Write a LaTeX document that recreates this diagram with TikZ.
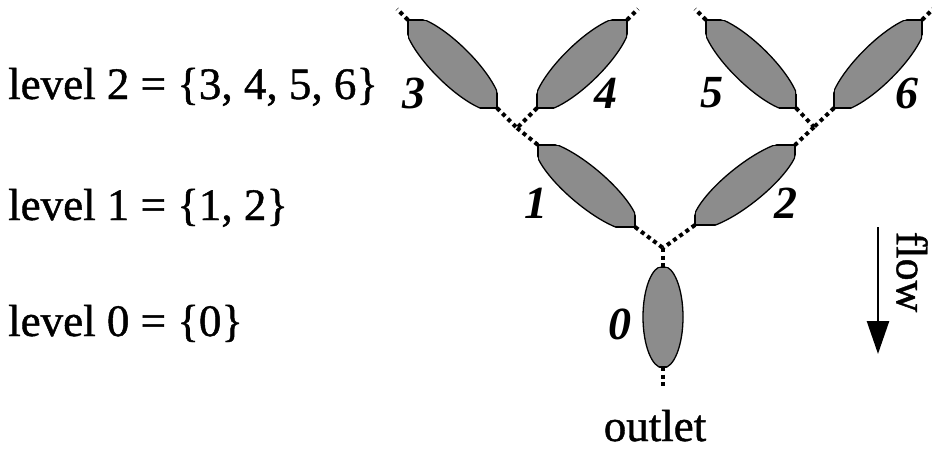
\documentclass[tikz,border=0pt]{standalone}
\usepackage{fontspec}
\setmainfont{Liberation Serif}
\newfontfamily\heavyserif[FakeBold=1]{Liberation Serif}
\usetikzlibrary{arrows.meta}
\definecolor{leafgray}{RGB}{140,140,140}
\tikzset{
  leaf/.style={fill=leafgray, draw=black, line width=1.3pt},
  conn/.style={line width=4pt, dash pattern=on 4pt off 3.6pt},
  lvl/.style={anchor=base west, font=\heavyserif\fontsize{45}{52}\selectfont, inner sep=0pt},
  num/.style={font=\fontsize{46}{52}\selectfont\bfseries\itshape, inner sep=0pt},
  plain/.style={font=\heavyserif\fontsize{45}{52}\selectfont, inner sep=0pt},
}
\newcommand\leafshape[7]{%
  \begin{scope}
    \clip (#1-#6,#2-#7) rectangle (#1+#6,#2+#7);
    \path[leaf, rotate around={#3:(#1,#2)}] (#1,#2) ellipse [x radius=#4, y radius=#5];
  \end{scope}
  \begin{scope}
    \clip[rotate around={#3:(#1,#2)}] (#1,#2) ellipse [x radius=#4, y radius=#5];
    \draw[line width=1.3pt] (#1-#6,#2-#7) rectangle (#1+#6,#2+#7);
  \end{scope}}
\begin{document}
\begin{tikzpicture}[x=1pt,y=-1pt]
\useasboundingbox (0,0) rectangle (932,450);
% leaves
\leafshape{452.5}{64}{-44.7}{64}{19.5}{44.5}{44}
\leafshape{582}{64}{44.4}{64}{19.5}{45}{44}
\leafshape{751}{64}{-44.4}{64}{19.5}{45}{44}
\leafshape{878}{64}{45}{64}{19.5}{44}{44}
\leafshape{586.5}{186}{-40.2}{65}{19}{48.5}{41}
\leafshape{745}{185}{38.7}{65}{19}{50}{40}
\leafshape{663}{317}{90}{51}{20}{21}{50}
% end points
\coordinate (e3a) at (408,20);  \coordinate (e3b) at (497,108);
\coordinate (e4a) at (627,20);  \coordinate (e4b) at (537,108);
\coordinate (e5a) at (706,20);  \coordinate (e5b) at (796,108);
\coordinate (e6a) at (922,20);  \coordinate (e6b) at (834,108);
\coordinate (e1a) at (538,145); \coordinate (e1b) at (635,227);
\coordinate (e2a) at (795,145); \coordinate (e2b) at (695,225);
\coordinate (e0a) at (663,267); \coordinate (e0b) at (663,367);
\coordinate (j34) at (517,128);
\coordinate (j56) at (814,127);
\coordinate (j12) at (663,248);
\coordinate (f3) at (397,9);
\coordinate (f4) at (638,9);
\coordinate (f5) at (695,9);
\coordinate (f6) at (933,9);
\coordinate (fo) at (663,389);
% connectors
\draw[conn] (e3a) -- (f3);
\draw[conn] (e4a) -- (f4);
\draw[conn] (e5a) -- (f5);
\draw[conn] (e6a) -- (f6);
\draw[conn] (e3b) -- (j34);
\draw[conn] (e4b) -- (j34);
\draw[conn] (j34) -- (e1a);
\draw[conn] (e5b) -- (j56);
\draw[conn] (e6b) -- (j56);
\draw[conn] (j56) -- (e2a);
\draw[conn] (e1b) -- (j12);
\draw[conn] (e2b) -- (j12);
\draw[conn] (j12) -- (e0a);
\draw[conn] (e0b) -- (fo);
% leaf labels
\node[num] (n3) at (414,93) {3};
\node[num] (n4) at (606,93) {4};
\node[num] (n5) at (712,93) {5};
\node[num] (n6) at (907,93) {6};
\node[num] (n1) at (536,203) {1};
\node[num] (n2) at (786,203) {2};
\node[num] (n0) at (620,324) {0};
% level texts
\node[lvl] (l2) at (8,99) {level 2 = \{3, 4, 5, 6\}};
\node[lvl] (l1) at (8,220) {level 1 = \{1, 2\}};
\node[lvl] (l0) at (8,336) {level 0 = \{0\}};
% outlet
\node[plain, anchor=base] (outlet) at (655,441) {outlet};
% flow
\coordinate (flowtop) at (878,227);
\coordinate (flowtip) at (878,354);
\draw[line width=2.6pt, -{Triangle[length=33pt, width=22pt]}] (flowtop) -- (flowtip);
\node[plain, font=\heavyserif\fontsize{44}{50}\selectfont, rotate=-90] (flow) at (912,272) {flow};
\end{tikzpicture}
\end{document}
